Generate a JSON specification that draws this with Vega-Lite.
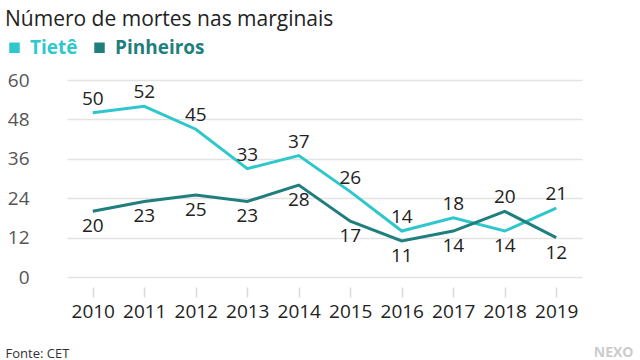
{
  "$schema": "https://vega.github.io/schema/vega-lite/v6.json",
  "width": 579,
  "height": 197,
  "autosize": "none",
  "padding": {"left": 39, "top": 80, "right": 22, "bottom": 83},
  "background": "white",
  "config": {
    "font": "Open Sans",
    "view": {"stroke": null}
  },
  "title": {
    "text": "Número de mortes nas marginais",
    "anchor": "start",
    "frame": "group",
    "dx": -34,
    "offset": -9,
    "fontSize": 21,
    "fontWeight": "normal",
    "color": "#222222",
    "baseline": "alphabetic"
  },
  "data": {
    "values": [
      {"ano": "2010", "serie": "Tietê", "mortes": 50},
      {"ano": "2011", "serie": "Tietê", "mortes": 52},
      {"ano": "2012", "serie": "Tietê", "mortes": 45},
      {"ano": "2013", "serie": "Tietê", "mortes": 33},
      {"ano": "2014", "serie": "Tietê", "mortes": 37},
      {"ano": "2015", "serie": "Tietê", "mortes": 26},
      {"ano": "2016", "serie": "Tietê", "mortes": 14},
      {"ano": "2017", "serie": "Tietê", "mortes": 18},
      {"ano": "2018", "serie": "Tietê", "mortes": 14},
      {"ano": "2019", "serie": "Tietê", "mortes": 21},
      {"ano": "2010", "serie": "Pinheiros", "mortes": 20},
      {"ano": "2011", "serie": "Pinheiros", "mortes": 23},
      {"ano": "2012", "serie": "Pinheiros", "mortes": 25},
      {"ano": "2013", "serie": "Pinheiros", "mortes": 23},
      {"ano": "2014", "serie": "Pinheiros", "mortes": 28},
      {"ano": "2015", "serie": "Pinheiros", "mortes": 17},
      {"ano": "2016", "serie": "Pinheiros", "mortes": 11},
      {"ano": "2017", "serie": "Pinheiros", "mortes": 14},
      {"ano": "2018", "serie": "Pinheiros", "mortes": 20},
      {"ano": "2019", "serie": "Pinheiros", "mortes": 12}
    ]
  },
  "encoding": {
    "x": {
      "field": "ano",
      "type": "ordinal",
      "scale": {"type": "point", "range": [28, 543]},
      "axis": {
        "title": "Fonte: CET",
        "titleAnchor": "start",
        "titleAlign": "left",
        "titleBaseline": "alphabetic",
        "titleX": -34,
        "titleY": 70,
        "titleFontSize": 13,
        "titleFontWeight": "normal",
        "titleColor": "#333333",
        "labelAngle": 0,
        "labelFontSize": 19,
        "labelColor": "#222222",
        "labelPadding": 5,
        "domain": false,
        "offset": 10,
        "tickSize": 10,
        "tickColor": "#d9d9d9",
        "tickWidth": 1.5,
        "grid": false
      }
    },
    "y": {
      "field": "mortes",
      "type": "quantitative",
      "scale": {"domain": [0, 60], "nice": false},
      "axis": {
        "values": [0, 12, 24, 36, 48, 60],
        "title": "NEXO",
        "titleAngle": 0,
        "titleX": 594,
        "titleY": 276,
        "titleAlign": "right",
        "titleBaseline": "alphabetic",
        "titleFontSize": 14,
        "titleFontWeight": "bold",
        "titleColor": "#cccccc",
        "domain": false,
        "ticks": false,
        "labelFontSize": 19,
        "labelColor": "#555555",
        "labelPadding": 10,
        "gridColor": "#e3e3e3",
        "gridWidth": 1.5
      }
    },
    "color": {
      "field": "serie",
      "type": "nominal",
      "sort": ["Tietê", "Pinheiros"],
      "scale": {"domain": ["Tietê", "Pinheiros"], "range": ["#2ec7cc", "#1f7f7d"]},
      "legend": {
        "title": null,
        "orient": "none",
        "legendX": -34,
        "legendY": -42,
        "padding": 0,
        "direction": "horizontal",
        "symbolType": "square",
        "symbolSize": 110,
        "labelFontSize": 19,
        "labelFontWeight": "bold",
        "labelOffset": 6,
        "columnPadding": 12,
        "encode": {
          "symbols": {"update": {"fill": {"scale": "color", "field": "value"}, "fillOpacity": {"value": 1}, "strokeWidth": {"value": 0}}},
          "labels": {"update": {"fill": {"scale": "color", "field": "value"}}}
        }
      }
    }
  },
  "layer": [
    {
      "mark": {"type": "rule", "color": "#888888", "strokeWidth": 2},
      "encoding": {"y": {"datum": 0}, "color": {"value": "#888888"}}
    },
    {
      "mark": {"type": "line", "strokeWidth": 3}
    },
    {
      "transform": [
        {"joinaggregate": [{"op": "max", "field": "mortes", "as": "maxv"}], "groupby": ["ano"]},
        {"filter": "datum.mortes == datum.maxv"}
      ],
      "mark": {"type": "text", "dy": -14, "fontSize": 19, "baseline": "middle"},
      "encoding": {"text": {"field": "mortes"}, "color": {"value": "#222222"}}
    },
    {
      "transform": [
        {"joinaggregate": [{"op": "max", "field": "mortes", "as": "maxv"}], "groupby": ["ano"]},
        {"filter": "datum.mortes < datum.maxv"}
      ],
      "mark": {"type": "text", "dy": 15, "fontSize": 19, "baseline": "middle"},
      "encoding": {"text": {"field": "mortes"}, "color": {"value": "#222222"}}
    }
  ]
}
